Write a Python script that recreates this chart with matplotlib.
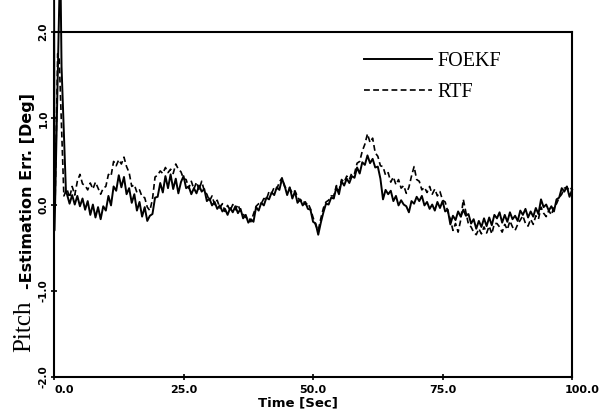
import numpy as np
import matplotlib
matplotlib.use("Agg")
import matplotlib.pyplot as plt
import matplotlib.transforms as mtransforms

# start-up transient (irregular sampling)
t_init_foekf = [0.0, 0.1, 1.2, 1.45, 2.3]
v_init_foekf = [2.9, -0.30, 2.9, 1.60, 0.15]
t_init_rtf = [0.2, 0.7, 1.0, 1.9]
v_init_rtf = [0.0, 1.75, 1.70, 0.10]

# steady part, 0.5 s samples from 2.5 s to 100 s
foekf = [
    0.12, 0.01, 0.11, 0.00, 0.10, -0.02, 0.07, -0.06, 0.04, -0.12,
    0.00, -0.15, -0.03, -0.17, -0.02, -0.07, 0.10, -0.01, 0.21, 0.16,
    0.34, 0.20, 0.32, 0.12, 0.19, 0.02, 0.12, -0.07, 0.03, -0.14,
    -0.03, -0.19, -0.13, -0.11, 0.08, 0.09, 0.25, 0.14, 0.33, 0.19,
    0.35, 0.18, 0.30, 0.13, 0.26, 0.33, 0.19, 0.21, 0.12, 0.19,
    0.13, 0.22, 0.15, 0.18, 0.04, 0.07, -0.01, 0.03, -0.05, -0.01,
    -0.08, -0.05, -0.12, -0.04, -0.09, -0.02, -0.10, -0.05, -0.16, -0.12,
    -0.21, -0.17, -0.20, -0.03, -0.07, 0.02, -0.01, 0.08, 0.06, 0.14,
    0.11, 0.20, 0.17, 0.30, 0.22, 0.11, 0.20, 0.07, 0.15, 0.02,
    0.06, -0.01, 0.03, -0.05, -0.06, -0.20, -0.22, -0.35, -0.21, -0.09,
    0.01, 0.00, 0.08, 0.07, 0.20, 0.12, 0.27, 0.22, 0.30, 0.25,
    0.33, 0.31, 0.43, 0.36, 0.49, 0.46, 0.57, 0.48, 0.53, 0.43,
    0.44, 0.30, 0.06, 0.17, 0.12, 0.16, 0.04, 0.10, -0.01, 0.05,
    0.00, -0.02, -0.09, 0.04, 0.01, 0.09, 0.04, 0.10, -0.01, 0.03,
    -0.05, 0.00, -0.07, 0.03, -0.04, 0.04, -0.08, -0.06, -0.23, -0.13,
    -0.18, -0.08, -0.14, -0.06, -0.13, -0.11, -0.22, -0.17, -0.28, -0.19,
    -0.26, -0.16, -0.25, -0.15, -0.24, -0.12, -0.16, -0.09, -0.21, -0.12,
    -0.20, -0.09, -0.17, -0.13, -0.19, -0.07, -0.12, -0.05, -0.15, -0.08,
    -0.14, -0.04, -0.11, 0.06, -0.03, 0.00, -0.07, -0.02, -0.08, 0.06,
    0.08, 0.19, 0.15, 0.21, 0.09, 0.17,
]
rtf = [
    0.18, 0.08, 0.21, 0.11, 0.27, 0.35, 0.24, 0.22, 0.17, 0.25,
    0.18, 0.26, 0.19, 0.12, 0.19, 0.21, 0.35, 0.33, 0.50, 0.45,
    0.52, 0.47, 0.55, 0.44, 0.37, 0.21, 0.23, 0.14, 0.17, 0.09,
    0.08, -0.03, -0.07, 0.06, 0.32, 0.34, 0.39, 0.36, 0.43, 0.37,
    0.41, 0.36, 0.47, 0.41, 0.38, 0.30, 0.29, 0.19, 0.27, 0.18,
    0.26, 0.17, 0.27, 0.16, 0.12, 0.04, 0.10, 0.00, 0.05, -0.04,
    0.01, -0.08, -0.01, -0.07, 0.00, -0.06, 0.00, -0.08, -0.11, -0.15,
    -0.14, -0.20, -0.11, -0.02, 0.01, 0.01, 0.07, 0.06, 0.15, 0.13,
    0.20, 0.18, 0.26, 0.31, 0.21, 0.18, 0.19, 0.13, 0.16, 0.09,
    0.04, 0.06, 0.00, 0.02, -0.05, -0.15, -0.24, -0.30, -0.16, -0.04,
    0.03, 0.05, 0.10, 0.10, 0.22, 0.16, 0.29, 0.26, 0.33, 0.29,
    0.37, 0.36, 0.48, 0.50, 0.62, 0.70, 0.82, 0.72, 0.77, 0.60,
    0.56, 0.45, 0.44, 0.34, 0.37, 0.26, 0.32, 0.23, 0.29, 0.19,
    0.22, 0.13, 0.20, 0.33, 0.44, 0.29, 0.27, 0.17, 0.20, 0.14,
    0.21, 0.12, 0.18, 0.10, 0.15, 0.05, 0.03, -0.08, -0.17, -0.30,
    -0.22, -0.32, -0.18, 0.06, -0.09, -0.23, -0.26, -0.32, -0.35, -0.28,
    -0.34, -0.26, -0.33, -0.25, -0.34, -0.22, -0.22, -0.26, -0.32, -0.23,
    -0.29, -0.19, -0.26, -0.30, -0.23, -0.18, -0.13, -0.22, -0.25, -0.17,
    -0.23, -0.13, -0.17, -0.03, -0.10, -0.14, -0.07, -0.12, -0.03, 0.01,
    0.08, 0.12, 0.19, 0.20, 0.16, 0.20,
]
t_steady = 2.5 + 0.5 * np.arange(len(foekf))

xticks = [0, 25, 50, 75, 100]
yticks = [-2, -1, 0, 1, 2]

t_f = np.concatenate([t_init_foekf, t_steady])
v_f = np.concatenate([v_init_foekf, foekf])
t_r = np.concatenate([t_init_rtf, t_steady])
v_r = np.concatenate([v_init_rtf, rtf])

fig = plt.figure(figsize=(6.01, 4.16), dpi=100)
ax = fig.add_axes((0.0899, 0.0938, 0.862, 0.829))
ax.plot(t_f, v_f, color="black", lw=1.4, clip_on=False, label="FOEKF")
ax.plot(t_r, v_r, color="black", lw=1.2, ls=(0, (3.5, 2)), clip_on=False, label="RTF")
ax.set_xlim(0, 100); ax.set_ylim(-2, 2)
for sp in ax.spines.values():
    sp.set_linewidth(1.5)

ax.set_xticks(xticks)
ax.set_xticklabels([f"{v:.1f}" for v in xticks], fontsize=8, fontweight="bold")
ax.set_yticks(yticks)
ax.set_yticklabels([f"{v:.1f}" for v in yticks], fontsize=7.5, fontweight="bold",
                   rotation=90, va="center")
ax.tick_params(direction="inout", length=5, width=1.2)
ax.tick_params(axis="y", pad=1.5)
ax.tick_params(axis="x", pad=3)
# end labels sit a little right of their ticks in the original
shift = mtransforms.ScaledTranslation(7 / 72, 0, fig.dpi_scale_trans)
xl = ax.get_xticklabels()
for lab in (xl[0], xl[-1]):
    lab.set_transform(lab.get_transform() + shift)

ax.set_xlabel("Time [Sec]", fontsize=9.5, fontweight="bold", labelpad=0)
ax.xaxis.set_label_coords(0.47, -0.055)

fig.text(0.040, 0.216, "Pitch", rotation=90, ha="center", va="center",
         family="Liberation Serif", fontsize=18)
fig.text(0.046, 0.541, "-Estimation Err. [Deg]", rotation=90, ha="center", va="center",
         fontsize=11.5, fontweight="bold")

ax.legend(loc="upper left", bbox_to_anchor=(0.563, 0.995), frameon=False,
          prop={"family": "Liberation Serif", "size": 14.5},
          handlelength=3.4, handletextpad=0.25, labelspacing=0.6)

fig.savefig("out.png", dpi=100)
print(len(foekf), len(rtf))
